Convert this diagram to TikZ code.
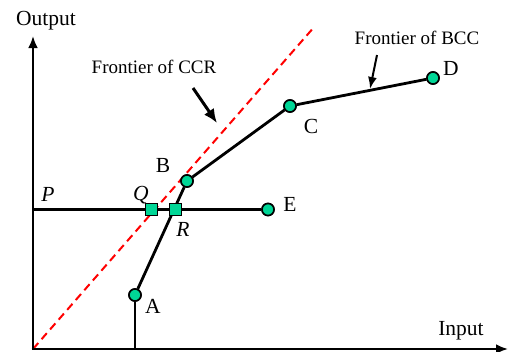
\documentclass[tikz,border=0pt]{standalone}
\usepackage{fontspec}
\setmainfont{Liberation Serif}
\usetikzlibrary{arrows.meta}
\definecolor{ptgreen}{RGB}{0,214,150}
\begin{document}
\begin{tikzpicture}[x=1pt,y=-1pt,
  lbl/.style={inner sep=0pt,font=\fontsize{21.5}{24}\selectfont},
  flbl/.style={inner sep=0pt,font=\fontsize{19}{21}\selectfont},
  dmu/.style={circle,draw=black,line width=1.6pt,fill=ptgreen,minimum size=12pt,inner sep=0pt},
  proj/.style={rectangle,draw=black,line width=1pt,fill=ptgreen,minimum size=12pt,inner sep=0pt},
  axis/.style={line width=2.8pt,-{Latex[length=12pt,width=10pt]}},
  front/.style={line width=2.8pt},
  ccr/.style={red,line width=2pt,dash pattern=on 8pt off 5pt},
  pointer/.style={-{Latex[length=14pt,width=12pt]}}]
\useasboundingbox (0,0) rectangle (510,351);
\coordinate (O) at (33,349);
\coordinate (ytop) at (33,36);
\coordinate (xend) at (508,349);
\coordinate (redtop) at (315,26);
\coordinate (P0) at (33,209.5);
\coordinate (Abase) at (135,349);
% red CCR frontier
\draw[ccr] (O) -- (redtop);
% horizontal line P-E
\node[dmu] (E) at (268,209.5) {};
\draw[line width=2.2pt] (P0) -- (E);
% BCC frontier
\node[dmu] (A) at (135,295) {};
\node[dmu] (B) at (187,181) {};
\node[dmu] (C) at (290,106) {};
\node[dmu] (D) at (433,78) {};
\draw[front] (Abase) -- (A);
\draw[front] (A) -- (B) -- (C) -- (D);
\node[dmu] at (A) {};
\node[dmu] at (B) {};
\node[dmu] at (C) {};
\node[dmu] at (D) {};
\node[dmu] at (E) {};
% projections
\node[proj] (Q) at (151,209.5) {};
\node[proj] (R) at (175,209.5) {};
% axes
\draw[axis] (O) -- (ytop);
\draw[axis] ([xshift=-1.4pt]O) -- (xend);
% labels
\node[lbl] (out) at (46,21) {Output};
\node[lbl] (in) at (461,331) {Input};
\node[lbl] (lA) at (153,306) {A};
\node[lbl] (lB) at (163,165) {B};
\node[lbl] (lC) at (311,126) {C};
\node[lbl] (lD) at (451,68) {D};
\node[lbl] (lE) at (290,204) {E};
\node[lbl] (lP) at (48,194) {\itshape P};
\node[lbl] (lQ) at (141,195) {\itshape Q};
\node[lbl] (lR) at (183,229) {\itshape R};
\node[flbl] (fccr) at (154,67) {Frontier of CCR};
\node[flbl] (fbcc) at (417,38) {Frontier of BCC};
% pointers
\coordinate (c1s) at (193,88);
\coordinate (c1e) at (217,123);
\coordinate (c2s) at (377,55);
\coordinate (c2e) at (370,89);
\draw[pointer,line width=3pt] (c1s) -- (c1e);
\draw[pointer,line width=2pt,-{Latex[length=12pt,width=9pt]}] (c2s) -- (c2e);
\end{tikzpicture}
\end{document}
